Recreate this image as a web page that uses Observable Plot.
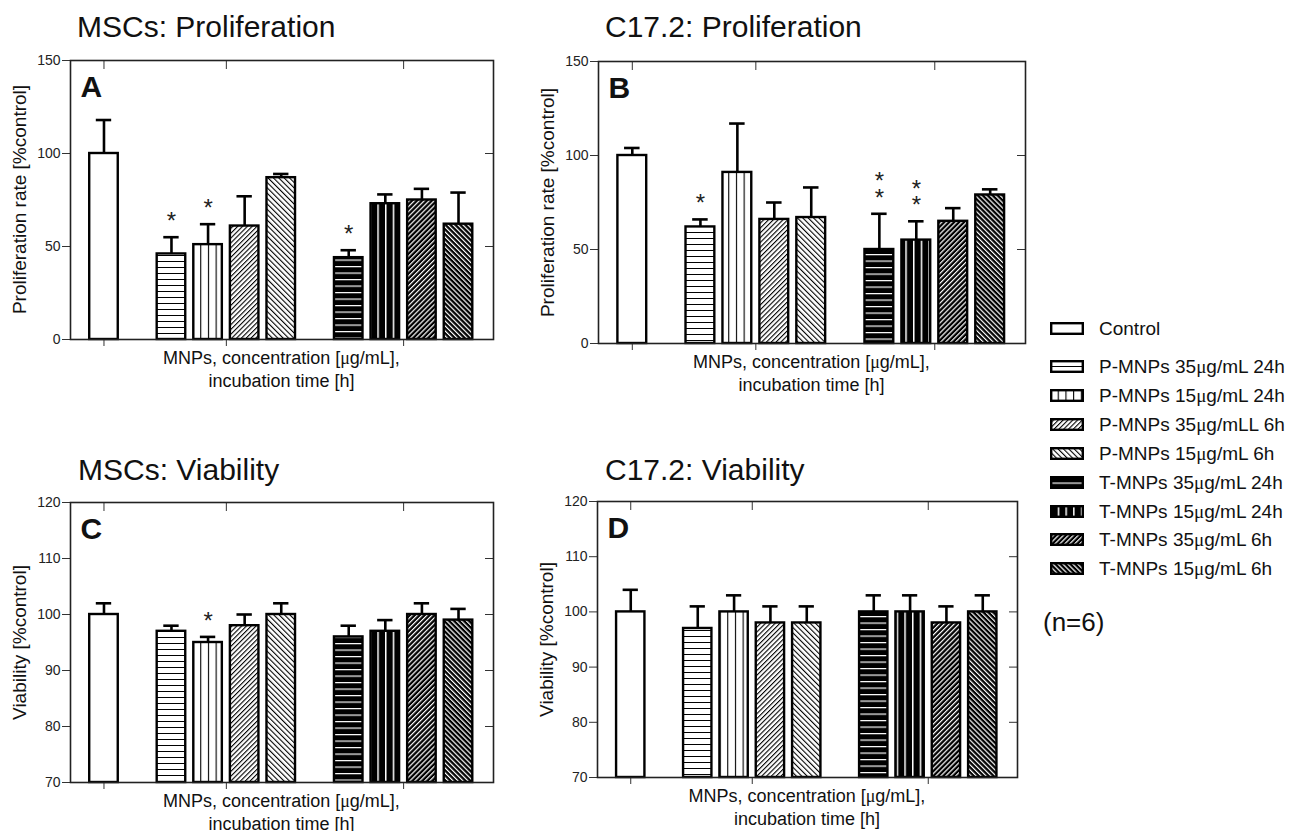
<!DOCTYPE html>
<html>
<head>
<meta charset="utf-8">
<script src="https://cdn.jsdelivr.net/npm/d3@7"></script>
<script src="https://cdn.jsdelivr.net/npm/@observablehq/plot@0.6"></script>
<style>
  html, body { margin: 0; padding: 0; background: #fff; }
  body { width: 1294px; height: 831px; position: relative; overflow: hidden; font-family: "Liberation Sans", Arial, sans-serif; color: #111; }
  .abs { position: absolute; white-space: nowrap; }
  .panel { position: absolute; }
  .mu { font-family: "Liberation Serif", "DejaVu Serif", serif; }
</style>
</head>
<body>
<svg width="0" height="0" style="position:absolute">
  <defs>
    <pattern id="ph" width="10" height="6" patternUnits="userSpaceOnUse">
      <rect width="10" height="6" fill="white"/><rect y="0" width="10" height="1" fill="black"/>
    </pattern>
    <pattern id="pv" width="7.7" height="10" patternUnits="userSpaceOnUse">
      <rect width="7.7" height="10" fill="white"/><rect x="0" width="1.1" height="10" fill="black"/>
    </pattern>
    <pattern id="pd1" width="3.4" height="10" patternUnits="userSpaceOnUse" patternTransform="rotate(45)">
      <rect width="3.4" height="10" fill="white"/><rect x="0" width="1.1" height="10" fill="black"/>
    </pattern>
    <pattern id="pd2" width="3.8" height="10" patternUnits="userSpaceOnUse" patternTransform="rotate(-45)">
      <rect width="3.8" height="10" fill="white"/><rect x="0" width="1.1" height="10" fill="black"/>
    </pattern>
    <pattern id="th" width="10" height="6.5" patternUnits="userSpaceOnUse">
      <rect width="10" height="6.5" fill="black"/><rect y="0" width="10" height="1.2" fill="white"/>
    </pattern>
    <pattern id="tv" width="7.7" height="10" patternUnits="userSpaceOnUse">
      <rect width="7.7" height="10" fill="black"/><rect x="0" width="1.5" height="10" fill="white"/>
    </pattern>
    <pattern id="td1" width="3.5" height="10" patternUnits="userSpaceOnUse" patternTransform="rotate(45)">
      <rect width="3.5" height="10" fill="black"/><rect x="0" width="1.2" height="10" fill="white"/>
    </pattern>
    <pattern id="td2" width="3.5" height="10" patternUnits="userSpaceOnUse" patternTransform="rotate(-45)">
      <rect width="3.5" height="10" fill="black"/><rect x="0" width="1.2" height="10" fill="white"/>
    </pattern>
  </defs>
</svg>
<script>
// ---------------- data ----------------
const categories = [
  "Control",
  "P-MNPs 35\u03bcg/mL 24h",
  "P-MNPs 15\u03bcg/mL 24h",
  "P-MNPs 35\u03bcg/mLL 6h",
  "P-MNPs 15\u03bcg/mL 6h",
  "T-MNPs 35\u03bcg/mL 24h",
  "T-MNPs 15\u03bcg/mL 24h",
  "T-MNPs 35\u03bcg/mL 6h",
  "T-MNPs 15\u03bcg/mL 6h"
];
const groups = ["Control", "P", "P", "P", "P", "T", "T", "T", "T"];

const mscProlifValues = [100, 46, 51, 61, 87, 44, 73, 75, 62];
const mscProlifErrors = [18, 9, 11, 16, 2, 4, 5, 6, 17];
const mscProlifStars  = ["", "*", "*", "", "", "*", "", "", ""];

const c17ProlifValues = [100, 62, 91, 66, 67, 50, 55, 65, 79];
const c17ProlifErrors = [4, 4, 26, 9, 16, 19, 10, 7, 3];
const c17ProlifStars  = ["", "*", "", "", "", "**", "**", "", ""];

const mscViabValues = [100, 97, 95, 98, 100, 96, 97, 100, 99];
const mscViabErrors = [2, 1, 1, 2, 2, 2, 2, 2, 2];
const mscViabStars  = ["", "", "*", "", "", "", "", "", ""];

const c17ViabValues = [100, 97, 100, 98, 98, 100, 100, 98, 100];
const c17ViabErrors = [4, 4, 3, 3, 3, 3, 3, 3, 3];
const c17ViabStars  = ["", "", "", "", "", "", "", "", ""];

const prolifTicks = [0, 50, 100, 150];
const viabTicks = [70, 80, 90, 100, 110, 120];

const xLabelLines = ["MNPs, concentration [\u03bcg/mL],", "incubation time [h]"];
const nNote = "(n=6)";

// ---------------- styles ----------------
const fills = ["white", "url(#ph)", "url(#pv)", "url(#pd1)", "url(#pd2)", "url(#th)", "url(#tv)", "url(#td1)", "url(#td2)"];
const SANS = '"Liberation Sans", Arial, sans-serif';
const GAP = 0.844; // extra spacing between groups (in bar pitches)
const groupOrder = ["Control", "P", "T"];
function slot(i) { return i + groupOrder.indexOf(groups[i]) * GAP; }

function fillText(el, txt) {
  txt.split("\u03bc").forEach((part, k) => {
    if (k > 0) {
      const s = document.createElement("span");
      s.className = "mu";
      s.textContent = "\u03bc";
      el.appendChild(s);
    }
    el.appendChild(document.createTextNode(part));
  });
}
function addText(txt, x, baseline, size, opts = {}) {
  const d = document.createElement("div");
  d.className = "abs";
  fillText(d, txt);
  const anchor = opts.anchor || "start";
  d.style.fontSize = size + "px";
  d.style.lineHeight = size + "px";
  d.style.fontFamily = opts.family || SANS;
  d.style.fontWeight = opts.weight || "normal";
  d.style.color = opts.color || "#111";
  d.style.top = (baseline - 0.8465 * size) + "px";
  if (anchor === "middle") {
    d.style.left = (x - 400) + "px"; d.style.width = "800px"; d.style.textAlign = "center";
  } else {
    d.style.left = x + "px";
  }
  document.body.appendChild(d);
  return d;
}
function addYLabel(txt, cx, cy, size) {
  const d = document.createElement("div");
  d.className = "abs";
  d.textContent = txt;
  d.style.fontSize = size + "px";
  d.style.lineHeight = size + "px";
  d.style.fontFamily = SANS;
  d.style.color = "#111";
  d.style.width = "400px";
  d.style.textAlign = "center";
  d.style.left = (cx - 200) + "px";
  d.style.top = (cy - size / 2) + "px";
  d.style.transform = "rotate(-90deg)";
  document.body.appendChild(d);
}

function panel(cfg) {
  const {values, errors, stars, yDomain, yTicks, frame, letter, title, titlePos, yLabel} = cfg;
  const rows = categories.map((c, i) => ({cat: c, s: slot(i), v: values[i], e: errors[i], star: stars[i]}));
  const xDomain = [-0.915, slot(8) + 0.956];
  const groupTicks = groupOrder.map(g => d3.mean(rows.filter((r, i) => groups[i] === g), r => r.s));
  const mL = 70, mR = 15, mT = 15, mB = 15;
  const W = frame.x1 - frame.x0 + mL + mR;
  const H = frame.y1 - frame.y0 + mT + mB;
  const hw = 0.39, cap = 0.21;
  const svg = Plot.plot({
    width: W, height: H,
    marginLeft: mL, marginRight: mR, marginTop: mT, marginBottom: mB,
    style: {background: "transparent", overflow: "visible", fontFamily: SANS, fontSize: "14px", color: "#222"},
    x: {type: "linear", domain: xDomain},
    y: {type: "linear", domain: yDomain},
    color: {type: "ordinal", domain: categories, range: fills},
    marks: [
      Plot.rect(rows, {x1: d => d.s - hw, x2: d => d.s + hw, y1: yDomain[0], y2: "v", fill: "cat", stroke: "black", strokeWidth: 2.4}),
      Plot.ruleX(rows, {x: "s", y1: "v", y2: d => d.v + d.e, stroke: "black", strokeWidth: 2.6}),
      Plot.ruleY(rows, {y: d => d.v + d.e, x1: d => d.s - cap, x2: d => d.s + cap, stroke: "black", strokeWidth: 2.6}),
      Plot.text(rows.filter(d => d.star), {x: "s", y: d => d.v + d.e, text: d => d.star.split("").join("\n"),
        lineAnchor: "bottom", lineHeight: 0.68, dy: -8, fontSize: 24, fill: "#222"}),
      Plot.axisY({anchor: "left", ticks: yTicks, tickSize: 8, tickPadding: 2, label: null, stroke: "#333"}),
      Plot.axisY({anchor: "right", ticks: yTicks, tickSize: 9, dx: -9, tickFormat: () => "", label: null, stroke: "#333"}),
      Plot.axisX({anchor: "top", ticks: groupTicks, tickSize: 8, dy: 8, tickFormat: () => "", label: null, stroke: "#333"}),
      Plot.axisX({anchor: "bottom", ticks: groupTicks, tickSize: 7, tickFormat: () => "", label: null, stroke: "#333"}),
      Plot.frame({stroke: "#222", strokeWidth: 1.6}),
      Plot.text([letter], {frameAnchor: "top-left", dx: 10, dy: 15, lineAnchor: "top", fontSize: 30, fontWeight: "bold", fill: "#111"})
    ]
  });
  svg.classList.add("panel");
  svg.style.left = (frame.x0 - mL) + "px";
  svg.style.top = (frame.y0 - mT) + "px";
  document.body.appendChild(svg);

  addText(title, titlePos[0], titlePos[1], 30);
  addYLabel(yLabel, frame.x0 - 51, (frame.y0 + frame.y1) / 2, 19);
  const cx = (frame.x0 + frame.x1) / 2;
  addText(xLabelLines[0], cx, frame.y1 + 25, 18, {anchor: "middle"});
  addText(xLabelLines[1], cx, frame.y1 + 48.5, 18, {anchor: "middle"});
}

panel({values: mscProlifValues, errors: mscProlifErrors, stars: mscProlifStars, yDomain: [0, 150], yTicks: prolifTicks,
  frame: {x0: 70, x1: 493, y0: 60, y1: 339}, letter: "A", title: "MSCs: Proliferation", titlePos: [77, 37],
  yLabel: "Proliferation rate [%control]"});
panel({values: c17ProlifValues, errors: c17ProlifErrors, stars: c17ProlifStars, yDomain: [0, 150], yTicks: prolifTicks,
  frame: {x0: 598, x1: 1025, y0: 61, y1: 343}, letter: "B", title: "C17.2: Proliferation", titlePos: [605, 37],
  yLabel: "Proliferation rate [%control]"});
panel({values: mscViabValues, errors: mscViabErrors, stars: mscViabStars, yDomain: [70, 120], yTicks: viabTicks,
  frame: {x0: 70, x1: 493, y0: 502, y1: 782}, letter: "C", title: "MSCs: Viability", titlePos: [78, 480],
  yLabel: "Viability [%control]"});
panel({values: c17ViabValues, errors: c17ViabErrors, stars: c17ViabStars, yDomain: [70, 120], yTicks: viabTicks,
  frame: {x0: 597, x1: 1017, y0: 501, y1: 777}, letter: "D", title: "C17.2: Viability", titlePos: [605, 480],
  yLabel: "Viability [%control]"});

// ---------------- legend ----------------
const legendCenters = [328, 366, 395, 424, 453, 482, 511, 539, 568];
categories.forEach((c, i) => {
  const ns = "http://www.w3.org/2000/svg";
  const s = document.createElementNS(ns, "svg");
  s.setAttribute("width", 34); s.setAttribute("height", 13);
  s.style.position = "absolute";
  s.style.left = "1050px";
  s.style.top = (legendCenters[i] - 6.5) + "px";
  const r = document.createElementNS(ns, "rect");
  r.setAttribute("x", 1.2); r.setAttribute("y", 1.2); r.setAttribute("width", 31.6); r.setAttribute("height", 10.6);
  r.setAttribute("fill", fills[i]); r.setAttribute("stroke", "black"); r.setAttribute("stroke-width", 2.4);
  s.appendChild(r);
  document.body.appendChild(s);
  addText(c, 1099, legendCenters[i] + 7, 19);
});
addText(nNote, 1043, 631, 26);
</script>
</body>
</html>
